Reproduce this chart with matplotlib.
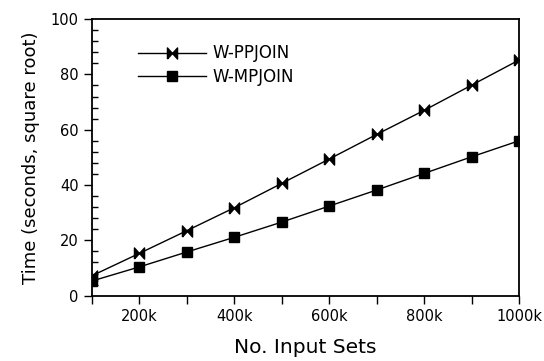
import matplotlib.pyplot as plt
from matplotlib.ticker import MultipleLocator, FixedLocator

input_sets = [100, 200, 300, 400, 500, 600, 700, 800, 900, 1000]
w_ppjoin = [7.2, 15.3, 23.5, 31.8, 40.6, 49.4, 58.3, 67.0, 76.1, 85.2]
w_mpjoin = [5.3, 10.4, 15.8, 21.1, 26.6, 32.4, 38.2, 44.2, 50.2, 56.0]
x_ticklabels = ["200k", "400k", "600k", "800k", "1000k"]

plt.rcParams["font.family"] = "DejaVu Sans"

# bowtie marker: two triangles pointing at each other
bowtie = [(-1, -1.1), (-1, 1.1), (0, 0), (1, 1.1), (1, -1.1), (0, 0), (-1, -1.1)]

fig = plt.figure(figsize=(5.44, 3.61), dpi=100)
ax = fig.add_axes([0.169, 0.181, 0.785, 0.766])

ax.plot(input_sets, w_ppjoin, color="black", lw=1, marker=bowtie, ms=8,
        label="W-PPJOIN")
ax.plot(input_sets, w_mpjoin, color="black", lw=1, marker="s", ms=6.5,
        label="W-MPJOIN")

ax.set_xlim(100, 1000)
ax.set_ylim(0, 100)
ax.xaxis.set_major_locator(FixedLocator([200, 400, 600, 800, 1000]))
ax.set_xticklabels(x_ticklabels)
ax.xaxis.set_minor_locator(FixedLocator([100, 300, 500, 700, 900]))
ax.yaxis.set_major_locator(MultipleLocator(20))
ax.yaxis.set_minor_locator(MultipleLocator(4))

ax.tick_params(axis="x", which="both", direction="out", length=6, width=1,
               labelsize=10.5, top=False)
ax.tick_params(axis="y", which="major", direction="out", length=6, width=1,
               labelsize=10.5, right=False)
ax.tick_params(axis="y", which="minor", direction="in", length=4, width=1,
               right=False)
for s in ax.spines.values():
    s.set_linewidth(1.3)

ax.set_xlabel("No. Input Sets", fontsize=14.5, labelpad=10)
ax.set_ylabel("Time (seconds, square root)", fontsize=13, labelpad=8)

ax.legend(loc="upper left", bbox_to_anchor=(0.072, 0.963), frameon=False,
          fontsize=12, handlelength=4.1, handletextpad=0.4, labelspacing=0.32)

fig.savefig("out.png", dpi=100)
